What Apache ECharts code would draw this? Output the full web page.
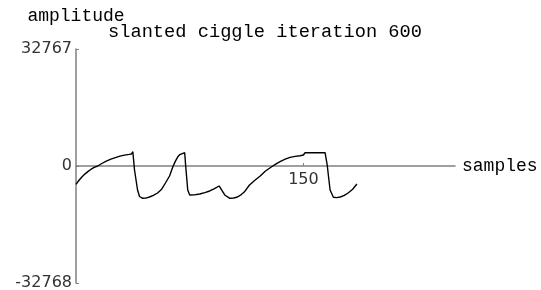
<!DOCTYPE html>
<html><head><meta charset="utf-8">
<script src="https://cdn.jsdelivr.net/npm/echarts@6/dist/echarts.min.js"></script>
<style>html,body{margin:0;padding:0;background:#fff;}#c{width:541px;height:290px;}</style>
</head><body><div id="c"></div>
<script>
const titleText = "slanted ciggle iteration 600";
const xName = "samples";
const yName = "amplitude";
const xTicks = [150];
const yTicks = [-32768, 0, 32767];
const samples = [0, 2, 4, 6, 8, 10, 12, 14.3, 17, 20, 23, 26, 29, 32, 35, 36.6, 37.5, 38.6, 40.6, 41.9, 44, 46, 48.5, 51, 53.8, 56.5, 59, 61.7, 63.9, 65.5, 67.2, 68.5, 69.7, 71.7, 72.3, 73.7, 75, 78, 81.6, 85, 88.2, 91, 94.4, 95.5, 98.1, 101.5, 104, 106.5, 109, 111, 114.3, 118, 121.5, 125, 129.3, 132, 134.6, 138, 141.2, 144.5, 147.8, 150, 151.1, 164.3, 165.7, 167.6, 169.8, 172, 174.3, 177, 179.5, 182.5, 185.3];
const amplitude = [-5125, -4000, -3000, -2200, -1500, -900, -400, 0, 700, 1350, 1900, 2350, 2750, 3050, 3250, 3360, 4000, -1120, -6720, -8540, -9050, -9000, -8680, -8200, -7560, -6500, -4760, -2800, -200, 1300, 2600, 3200, 3640, 3720, 280, -6720, -8120, -8100, -7840, -7450, -7000, -6400, -5600, -5880, -8120, -9050, -8950, -8680, -8000, -7300, -5400, -4000, -2800, -1400, -140, 600, 1200, 1900, 2430, 2700, 2880, 3080, 3720, 3720, 280, -6720, -8770, -8850, -8680, -8200, -7560, -6500, -5040];

const chart = echarts.init(document.getElementById('c'));
const mono = "Liberation Mono";
const sans = "DejaVu Sans";
const raw = v => String(v);
chart.setOption({
  animation: false,
  title: {text: titleText, left: 108, top: 23, padding: 0,
    textStyle: {fontFamily: mono, fontSize: 18.7, fontWeight: 'normal', color: '#000'}},
  grid: {left: 76, right: 86, top: 49, bottom: 7, containLabel: false, outerBoundsMode: 'none'},
  xAxis: {type: 'value', min: 0, max: 250, name: xName, nameLocation: 'end', nameGap: 7,
    position: 'bottom', offset: -117,
    nameTextStyle: {fontFamily: mono, fontSize: 18, color: '#000'},
    axisLine: {onZero: false, lineStyle: {color: '#808080', width: 1.5}},
    axisTick: {show: true, inside: true, length: 3, customValues: xTicks, lineStyle: {color: '#808080'}},
    axisLabel: {customValues: xTicks, formatter: raw, fontFamily: sans, fontSize: 16, color: '#333', margin: 6},
    splitLine: {show: false}},
  yAxis: {type: 'value', min: -32768, max: 32767, name: yName, nameLocation: 'end', nameGap: 24,
    nameTextStyle: {fontFamily: mono, fontSize: 18, color: '#000', align: 'center'},
    axisLine: {show: true, onZero: false, lineStyle: {color: '#808080', width: 1.5}},
    axisTick: {show: true, inside: true, length: 3, customValues: yTicks, lineStyle: {color: '#808080'}},
    axisLabel: {customValues: yTicks, formatter: raw, fontFamily: sans, fontSize: 16, color: '#333', margin: 4},
    splitLine: {show: false}},
  series: [{type: 'line', data: samples.map((s, i) => [s, amplitude[i]]), showSymbol: false,
    lineStyle: {color: '#000', width: 1.4}}]
});
</script></body></html>
